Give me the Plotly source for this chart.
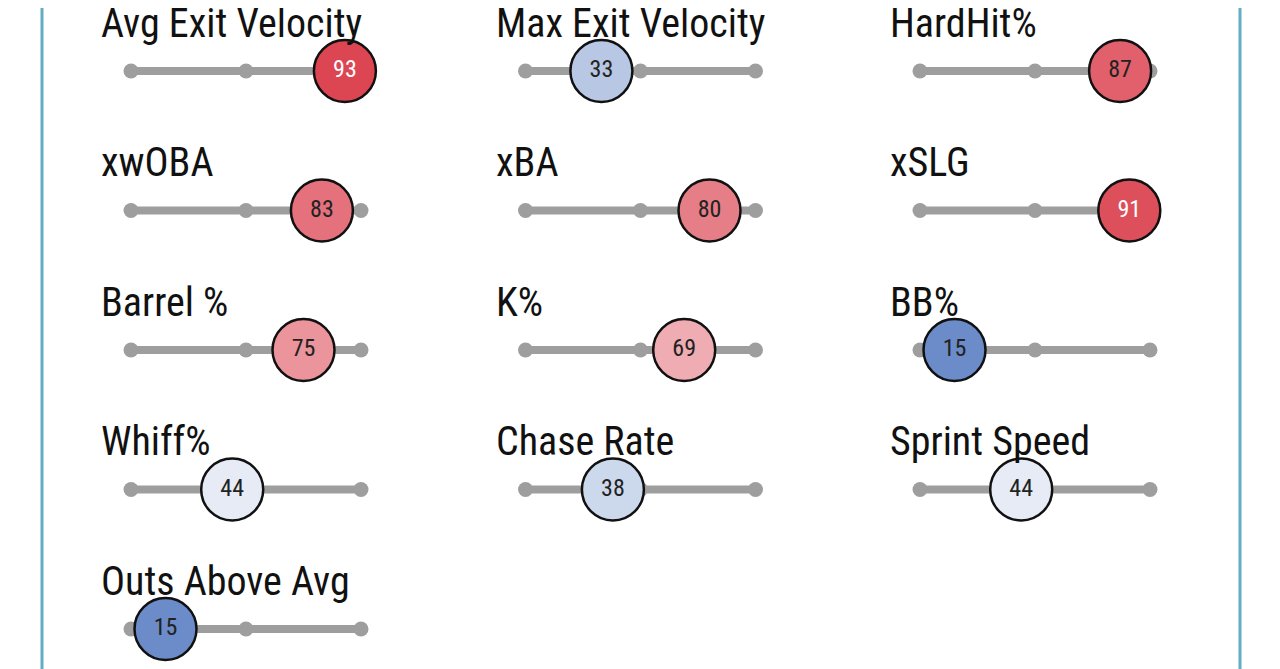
import plotly.graph_objects as go

metrics = ["Avg Exit Velocity", "Max Exit Velocity", "HardHit%",
           "xwOBA", "xBA", "xSLG",
           "Barrel %", "K%", "BB%",
           "Whiff%", "Chase Rate", "Sprint Speed",
           "Outs Above Avg"]
percentiles = [93, 33, 87, 83, 80, 91, 75, 69, 15, 44, 38, 44, 15]
track_ticks = [0, 50, 100]

# layout constants (pixels); the page body adds an 8px margin
W, H = 1280, 669
OFF = 8
col_x0 = [131, 525.5, 920]
track_len = 230
row_y0, row_dy = 71, 139.5
label_dx, label_dy = -32, -48

LABEL_FONT = "Roboto Condensed, Liberation Sans Narrow, Roboto, sans-serif"

def px(col, v):
    return col_x0[col] + v / 100 * track_len

fig = go.Figure()
annotations = []
for i, (name, val) in enumerate(zip(metrics, percentiles)):
    r, c = divmod(i, 3)
    y = row_y0 + r * row_dy
    fig.add_trace(go.Scatter(
        x=[px(c, t) for t in track_ticks], y=[y] * len(track_ticks),
        mode="lines+markers",
        line=dict(color="#9e9e9e", width=8),
        marker=dict(color="#9e9e9e", size=15),
        hoverinfo="skip", showlegend=False))
    fig.add_trace(go.Scatter(
        x=[px(c, val)], y=[y], mode="markers+text",
        marker=dict(size=62, color=[val], cmin=0, cmax=100,
                    colorscale=[[0, "rgb(44,91,176)"], [0.5, "rgb(255,255,255)"],
                                [1, "rgb(214,40,55)"]],
                    line=dict(color="#111111", width=2.5)),
        text=[str(val)], textposition="middle center",
        textfont=dict(family=LABEL_FONT, size=24,
                      color="white" if val >= 90 else "#222222"),
        hovertemplate=f"{name}: {val}<extra></extra>", showlegend=False))
    annotations.append(dict(
        x=col_x0[c] + label_dx, y=y + label_dy, xref="x", yref="y",
        text=name, showarrow=False, xanchor="left", yanchor="middle",
        font=dict(family=LABEL_FONT, size=40, color="#111111")))

fig.update_layout(
    width=W, height=H, margin=dict(l=0, r=0, t=0, b=0),
    paper_bgcolor="white", plot_bgcolor="white",
    xaxis=dict(range=[OFF, W + OFF], visible=False, fixedrange=True),
    yaxis=dict(range=[H + OFF, OFF], visible=False, fixedrange=True),
    annotations=annotations,
    shapes=[dict(type="line", xref="x", yref="paper", x0=x, x1=x, y0=0, y1=1,
                 line=dict(color="#62adc4", width=3), layer="below")
            for x in (42, 1240)],
)
fig.write_html("out.html")
